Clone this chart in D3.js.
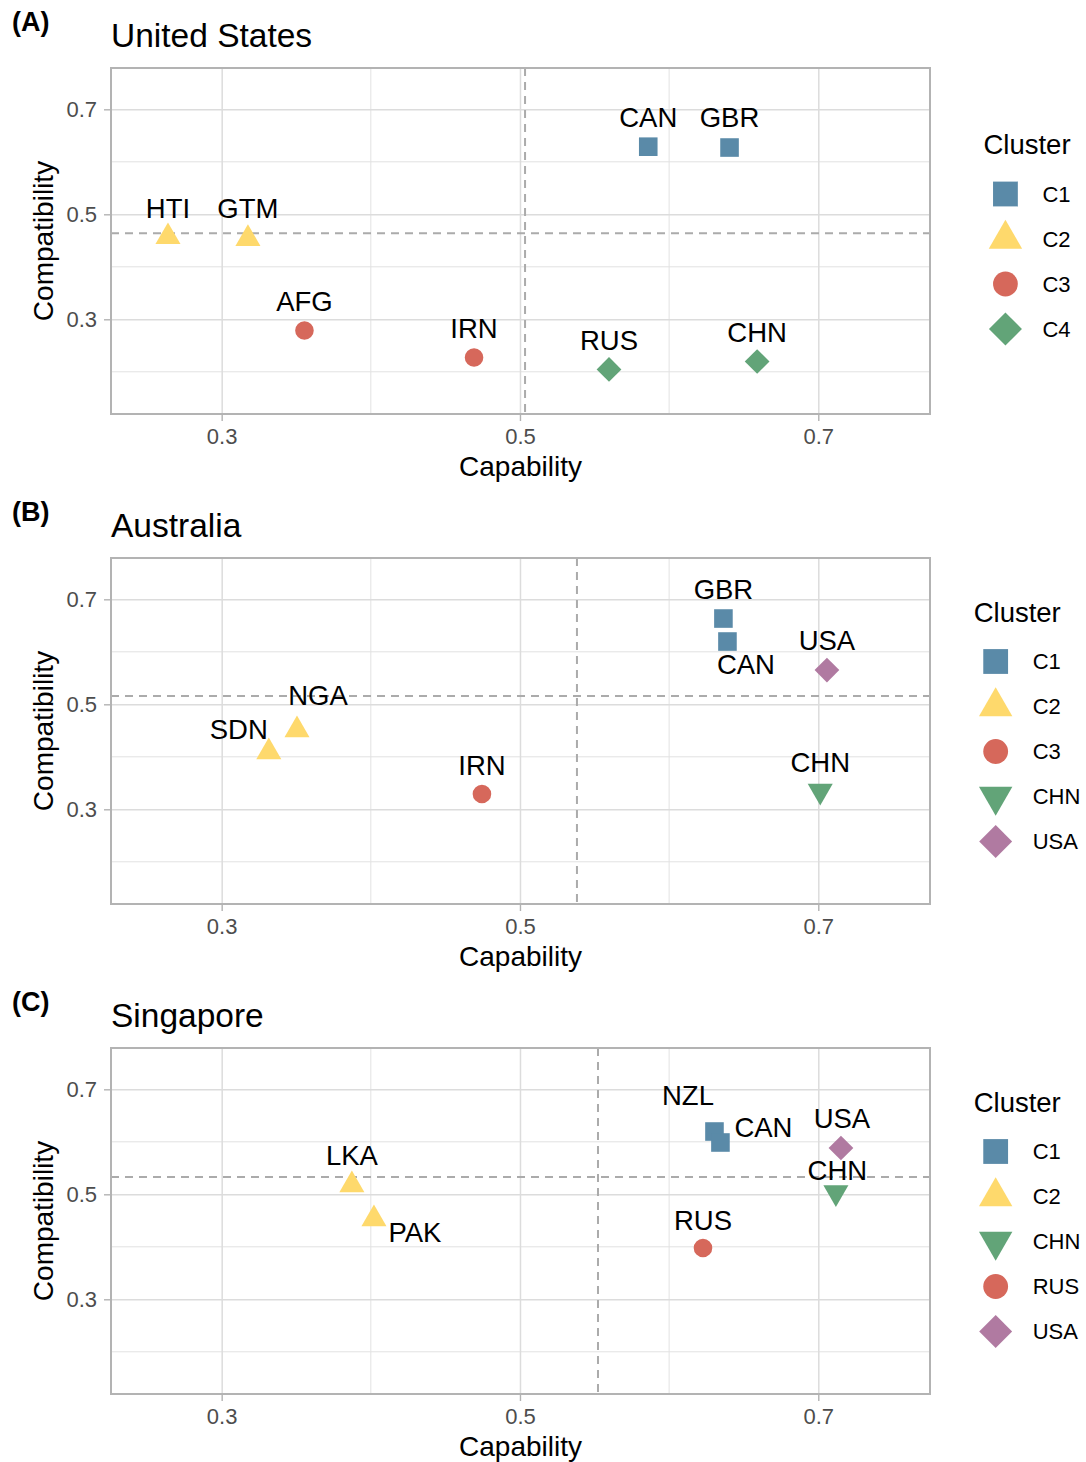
<!DOCTYPE html>
<html>
<head>
<meta charset="utf-8">
<script src="https://cdn.jsdelivr.net/npm/d3@7"></script>
<style>
  body { margin: 0; background: #fff; }
  text { font-family: "Liberation Sans", Arial, sans-serif; }
</style>
</head>
<body>
<div class="chart"></div>
<script>

// ---- data ----
var usCodes = ["CAN", "GBR", "HTI", "GTM", "AFG", "IRN", "RUS", "CHN"];
var usCapability = [0.586, 0.6405, 0.264, 0.3176, 0.3555, 0.4692, 0.5597, 0.659];
var usCompatibility = [0.6288, 0.6272, 0.457, 0.4535, 0.2787, 0.2272, 0.2044, 0.2196];
var usCluster = ["C1", "C1", "C2", "C2", "C3", "C3", "C4", "C4"];
var usRefLines = [0.5034, 0.4638];

var auCodes = ["GBR", "CAN", "USA", "CHN", "NGA", "SDN", "IRN"];
var auCapability = [0.6364, 0.6391, 0.7058, 0.7013, 0.3505, 0.3316, 0.4745];
var auCompatibility = [0.6634, 0.6196, 0.5653, 0.3349, 0.451, 0.409, 0.3291];
var auCluster = ["C1", "C1", "USA", "CHN", "C2", "C2", "C3"];
var auRefLines = [0.5382, 0.5158];

var sgCodes = ["NZL", "CAN", "USA", "CHN", "LKA", "PAK", "RUS"];
var sgCapability = [0.6304, 0.6344, 0.7152, 0.7118, 0.3873, 0.4021, 0.6227];
var sgCompatibility = [0.6196, 0.5987, 0.5882, 0.5034, 0.5177, 0.453, 0.3977];
var sgCluster = ["C1", "C1", "USA", "CHN", "C2", "C2", "RUS"];
var sgRefLines = [0.5523, 0.533];

var usLegend = ["C1", "C2", "C3", "C4"];
var auLegend = ["C1", "C2", "C3", "CHN", "USA"];
var sgLegend = ["C1", "C2", "CHN", "RUS", "USA"];

var axisTicks = [0.3, 0.5, 0.7];
var minorTicks = [0.2, 0.4, 0.6];

// label nudges (pixels, label centre relative to point), as ggrepel placed them
var usLabelShift = [[0, -30], [0, -30], [0, -29], [0, -31], [0, -29], [0, -29], [0, -29.5], [0, -29.5]];
var auLabelShift = [[0, -29], [18.5, 22.5], [0, -30], [0, -29], [21, -35], [-30, -23], [0, -29]];
var sgLabelShift = [[-26.5, -36.5], [43, -15.5], [1, -30], [1.5, -22.5], [0, -30], [41, 13], [0, -28]];

var style = {
  C1: { shape: "square", color: "#5A8AA8" },
  C2: { shape: "triangle", color: "#FED96C" },
  C3: { shape: "circle", color: "#D6685B" },
  C4: { shape: "diamond", color: "#62A478" },
  CHN: { shape: "down", color: "#62A478" },
  RUS: { shape: "circle", color: "#D6685B" },
  USA: { shape: "diamond", color: "#B07AA1" }
};

var W = 1086, H = 1462;
var plotLeft = 111, plotRight = 930, plotH = 346, panelTop0 = 68, panelStep = 490;

var svg = d3.select('.chart').append('svg')
  .attr('width', W)
  .attr('height', H);

// R-like point shapes
function shapePath(shape, R) {
  var r = 1.5551 * R, xc = 1.3468 * R, yc = 0.7776 * R, d = 1.33 * R;
  switch (shape) {
    case "square": return "M" + (-R) + "," + (-R) + "h" + 2 * R + "v" + 2 * R + "h" + (-2 * R) + "Z";
    case "circle": return "M" + R + ",0A" + R + "," + R + " 0 1,1 " + (-R) + ",0A" + R + "," + R + " 0 1,1 " + R + ",0Z";
    case "triangle": return "M0," + (-r) + "L" + xc + "," + yc + "L" + (-xc) + "," + yc + "Z";
    case "down": return "M0," + r + "L" + xc + "," + (-yc) + "L" + (-xc) + "," + (-yc) + "Z";
    case "diamond": return "M0," + (-d) + "L" + d + ",0L0," + d + "L" + (-d) + ",0Z";
  }
}

function drawPanel(idx, tag, title, codes, cap, comp, cluster, refs, shifts, legend) {
  var top = panelTop0 + idx * panelStep;
  var g = svg.append('g').attr('transform', 'translate(0,' + top + ')');

  var x = d3.scaleLinear().domain([0.2258, 0.7749]).range([plotLeft, plotRight]);
  var y = d3.scaleLinear().domain([0.1196, 0.7787]).range([plotH, 0]);

  // tag + title
  g.append('text').attr('x', 12).attr('y', 30.7 - 68)
    .style('font-size', '27px').style('font-weight', 'bold').text(tag);
  g.append('text').attr('x', 111).attr('y', 46.7 - 68)
    .style('font-size', '33.5px').text(title);

  // grid
  g.selectAll('.minx').data(minorTicks.filter(function (v) { return v > 0.2258; })).enter()
    .append('line')
    .attr('x1', function (d) { return x(d); }).attr('x2', function (d) { return x(d); })
    .attr('y1', 0).attr('y2', plotH)
    .style('stroke', '#E2E2E2').style('stroke-width', 1);
  g.selectAll('.miny').data(minorTicks).enter()
    .append('line')
    .attr('y1', function (d) { return y(d); }).attr('y2', function (d) { return y(d); })
    .attr('x1', plotLeft).attr('x2', plotRight)
    .style('stroke', '#E2E2E2').style('stroke-width', 1);

  var xAxis = d3.axisBottom(x).tickValues(axisTicks).tickSize(-plotH).tickPadding(12).tickFormat(d3.format('.1f'));
  var yAxis = d3.axisLeft(y).tickValues(axisTicks).tickSize(-(plotRight - plotLeft)).tickPadding(14).tickFormat(d3.format('.1f'));

  var gx = g.append('g').attr('transform', 'translate(0,' + plotH + ')').call(xAxis);
  var gy = g.append('g').attr('transform', 'translate(' + plotLeft + ',0)').call(yAxis);
  [gx, gy].forEach(function (ax) {
    ax.select('.domain').remove();
    ax.selectAll('.tick line').style('stroke', '#DCDCDC').style('stroke-width', 1.5);
    ax.selectAll('.tick text').style('font-size', '22px').style('fill', '#4D4D4D')
      .style('font-family', '"Liberation Sans", Arial, sans-serif');
  });
  gx.selectAll('.tick text').attr('dy', null).attr('y', 30);
  // outside tick marks
  gx.selectAll('.tick').append('line').attr('y1', 0).attr('y2', 7)
    .style('stroke', '#B3B3B3').style('stroke-width', 1.4);
  gy.selectAll('.tick').append('line').attr('x1', 0).attr('x2', -7)
    .style('stroke', '#B3B3B3').style('stroke-width', 1.4);

  // reference lines
  g.append('line')
    .attr('x1', x(refs[0])).attr('x2', x(refs[0])).attr('y1', 0).attr('y2', plotH)
    .style('stroke', '#ABABAB').style('stroke-width', 2).style('stroke-dasharray', '8,6');
  g.append('line')
    .attr('x1', plotLeft).attr('x2', plotRight).attr('y1', y(refs[1])).attr('y2', y(refs[1]))
    .style('stroke', '#ABABAB').style('stroke-width', 2).style('stroke-dasharray', '8,6');

  // border
  g.append('rect')
    .attr('x', plotLeft).attr('y', 0).attr('width', plotRight - plotLeft).attr('height', plotH)
    .style('fill', 'none').style('stroke', '#B3B3B3').style('stroke-width', 2);

  // axis titles
  g.append('text').attr('x', (plotLeft + plotRight) / 2).attr('y', 476 - 68)
    .style('text-anchor', 'middle').style('font-size', '28px').text('Capability');
  g.append('text')
    .attr('transform', 'translate(53,' + (plotH / 2) + ')rotate(-90)')
    .style('text-anchor', 'middle').style('font-size', '28px').text('Compatibility');

  // points
  var pts = codes.map(function (c, i) {
    return { code: c, cap: cap[i], comp: comp[i], cl: cluster[i], sh: shifts[i] };
  });
  g.selectAll('.pt').data(pts).enter().append('path')
    .attr('class', 'pt')
    .attr('transform', function (d) { return 'translate(' + x(d.cap) + ',' + y(d.comp) + ')'; })
    .attr('d', function (d) { return shapePath(style[d.cl].shape, 9.3); })
    .style('fill', function (d) { return style[d.cl].color; });

  g.selectAll('.lbl').data(pts).enter().append('text')
    .attr('x', function (d) { return x(d.cap) + d.sh[0]; })
    .attr('y', function (d) { return y(d.comp) + d.sh[1]; })
    .attr('dy', '0.36em')
    .style('text-anchor', 'middle').style('font-size', '27.5px')
    .text(function (d) { return d.code; });

  // legend
  var lg = g.append('g');
  var firstKey = plotH / 2 - 45 * (legend.length - 1) / 2 + 20.5;
  var lt = lg.append('text').attr('x', 0).attr('y', firstKey - 40)
    .style('font-size', '27.5px').text('Cluster');
  var maxW = lt.node().getComputedTextLength();
  legend.forEach(function (k, i) {
    var ky = firstKey + i * 45;
    lg.append('path')
      .attr('transform', 'translate(22,' + ky + ')')
      .attr('d', shapePath(style[k].shape, 12.4))
      .style('fill', style[k].color);
    var t = lg.append('text').attr('x', 59).attr('y', ky).attr('dy', '0.36em')
      .style('font-size', '22px').text(k);
    maxW = Math.max(maxW, 59 + t.node().getComputedTextLength());
  });
  lg.attr('transform', 'translate(' + (1027 - maxW / 2) + ',0)');
}

drawPanel(0, "(A)", "United States", usCodes, usCapability, usCompatibility, usCluster, usRefLines, usLabelShift, usLegend);
drawPanel(1, "(B)", "Australia", auCodes, auCapability, auCompatibility, auCluster, auRefLines, auLabelShift, auLegend);
drawPanel(2, "(C)", "Singapore", sgCodes, sgCapability, sgCompatibility, sgCluster, sgRefLines, sgLabelShift, sgLegend);

</script>
</body>
</html>
